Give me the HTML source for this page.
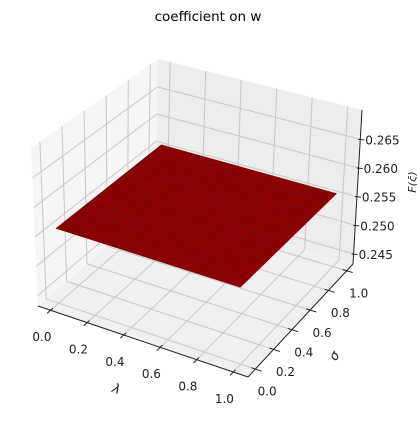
<!DOCTYPE html>
<html><head><meta charset="utf-8"><style>
html,body{margin:0;padding:0;background:#fff;}
svg text{font-family:"DejaVu Sans","Liberation Sans",sans-serif;}
</style></head><body>
<svg id="chart" width="417" height="419" viewBox="0 0 417 419" xmlns="http://www.w3.org/2000/svg">
<text x="208" y="21" text-anchor="middle" font-size="13.5" fill="#000">coefficient on w</text>
<g id="panes"></g>
<g id="grid"></g>
<g id="surf"></g>
<g id="axes"></g>
</svg>
<script>
const lambdaTicks=[0.0,0.2,0.4,0.6,0.8,1.0];
const sigmaTicks=[0.0,0.2,0.4,0.6,0.8,1.0];
const zTicks=[0.245,0.250,0.255,0.260,0.265];
const lambdaTickLabels=["0.0","0.2","0.4","0.6","0.8","1.0"];
const sigmaTickLabels=["0.0","0.2","0.4","0.6","0.8","1.0"];
const zTickLabels=["0.245","0.250","0.255","0.260","0.265"];
const surfaceLambda=[0,0.1,0.2,0.3,0.4,0.5,0.6,0.7,0.8,0.9,1.0];
const surfaceSigma=[0,0.1,0.2,0.3,0.4,0.5,0.6,0.7,0.8,0.9,1.0];
const surfaceValue=0.256;

const NS="http://www.w3.org/2000/svg";
const C={
 b000:[38,306],b100:[248,377],b110:[353,264],b010:[155,205],
 b001:[31,148],b101:[247,214],b111:[362,110],b011:[158,59]};
function lerp(a,b,t){return [a[0]+(b[0]-a[0])*t,a[1]+(b[1]-a[1])*t];}
function P(p,q,r){
 const f0=lerp(lerp(C.b000,C.b100,p),lerp(C.b010,C.b110,p),q);
 const f1=lerp(lerp(C.b001,C.b101,p),lerp(C.b011,C.b111,p),q);
 return lerp(f0,f1,r);}
const pl=v=>0.06+0.87*v, qs=v=>0.07+0.87*v;
const zLo=0.24325,zHi=0.27013; const rz=v=>(v-zLo)/(zHi-zLo);
function el(tag,attrs,parent){const e=document.createElementNS(NS,tag);for(const k in attrs)e.setAttribute(k,attrs[k]);parent.appendChild(e);return e;}
function poly(pts){return pts.map(p=>p[0].toFixed(1)+","+p[1].toFixed(1)).join(" ");}
function line(a,b,stroke,w,parent){return el("line",{x1:a[0],y1:a[1],x2:b[0],y2:b[1],stroke:stroke,"stroke-width":w},parent);}

const panes=document.getElementById("panes");
let e;
e=el("polygon",{points:poly([P(0,0,0),P(1,0,0),P(1,1,0),P(0,1,0)]),fill:"#f0f0f0"},panes);


e=el("polygon",{points:poly([P(0,0,0),P(0,1,0),P(0,1,1),P(0,0,1)]),fill:"#f5f5f5"},panes);


e=el("polygon",{points:poly([P(0,1,0),P(1,1,0),P(1,1,1),P(0,1,1)]),fill:"#ededed"},panes);



const grid=document.getElementById("grid");
const gc="#c9c9c9";
lambdaTicks.forEach(v=>{const p=pl(v);
 e=line(P(p,0,0),P(p,1,0),gc,1,grid);
 
 
 e=line(P(p,1,0),P(p,1,1),gc,1,grid);
 
 });
sigmaTicks.forEach(v=>{const q=qs(v);
 e=line(P(0,q,0),P(1,q,0),gc,1,grid);
 
 
 e=line(P(0,q,0),P(0,q,1),gc,1,grid);
 
 });
zTicks.forEach(v=>{const r=rz(v);
 e=line(P(0,0,r),P(0,1,r),gc,1,grid);
 
 
 e=line(P(0,1,r),P(1,1,r),gc,1,grid);
 
 });

const surf=document.getElementById("surf");
const r0=rz(surfaceValue);
const L0=surfaceLambda[0],L1=surfaceLambda[surfaceLambda.length-1];
const S0=surfaceSigma[0],S1=surfaceSigma[surfaceSigma.length-1];
e=el("polygon",{points:poly([P(pl(L0),qs(S0),r0),P(pl(L1),qs(S0),r0),P(pl(L1),qs(S1),r0),P(pl(L0),qs(S1),r0)]),fill:"#880000",stroke:"#880000","stroke-width":0.5},surf);


surfaceLambda.slice(1,-1).forEach(v=>{
 e=line(P(pl(v),qs(S0),r0),P(pl(v),qs(S1),r0),"#4a1848",0.5,surf);
 e.setAttribute('stroke-dasharray','2,2');
 
 });
surfaceSigma.slice(1,-1).forEach(v=>{
 e=line(P(pl(L0),qs(v),r0),P(pl(L1),qs(v),r0),"#4a1848",0.5,surf);
 e.setAttribute('stroke-dasharray','2,2');
 
 });

const axes=document.getElementById("axes");
e=line(P(0,0,0),P(1,0,0),"#222",1,axes);


e=line(P(1,0,0),P(1,1,0),"#222",1,axes);


e=line(P(1,1,0),P(1,1,1),"#222",1,axes);


function txt(x,y,s,anchor,parent,size){const t=el("text",{x:x,y:y,"font-size":size||12,"text-anchor":anchor||"middle",fill:"#222"},parent);t.textContent=s;return t;}
lambdaTicks.forEach((v,i)=>{const a=P(pl(v),0.02,0),b=P(pl(v),-0.03,0);
 e=line(a,b,"#222",1,axes);
 
 
 e=txt(a[0]-11,a[1]+33,lambdaTickLabels[i],"middle",axes);
 
 });
sigmaTicks.forEach((v,i)=>{const a=P(0.98,qs(v),0),b=P(1.03,qs(v),0);
 e=line(a,b,"#222",1,axes);
 
 
 e=txt(a[0]+16,a[1]+28,sigmaTickLabels[i],"middle",axes);
 
 });
zTicks.forEach((v,i)=>{const a=P(1,1,rz(v));
 e=line([a[0]-2,a[1]],[a[0]+4,a[1]+0.5],"#222",1,axes);
 
 
 e=txt(a[0]+5,a[1]+5,zTickLabels[i],"start",axes);
 
 });
e=txt(0,0,"λ","middle",axes,13);
e.setAttribute('transform','translate(115,393) rotate(20)');
e.setAttribute('font-style','italic');


e=txt(0,0,"σ","middle",axes,13);
e.setAttribute('transform','translate(338,358) rotate(-60)');
e.setAttribute('font-style','italic');


e=txt(0,0,"F(ς̄)","middle",axes,11);
e.setAttribute('transform','translate(416,182) rotate(-90)');
e.setAttribute('font-style','italic');


</script>
</body></html>
